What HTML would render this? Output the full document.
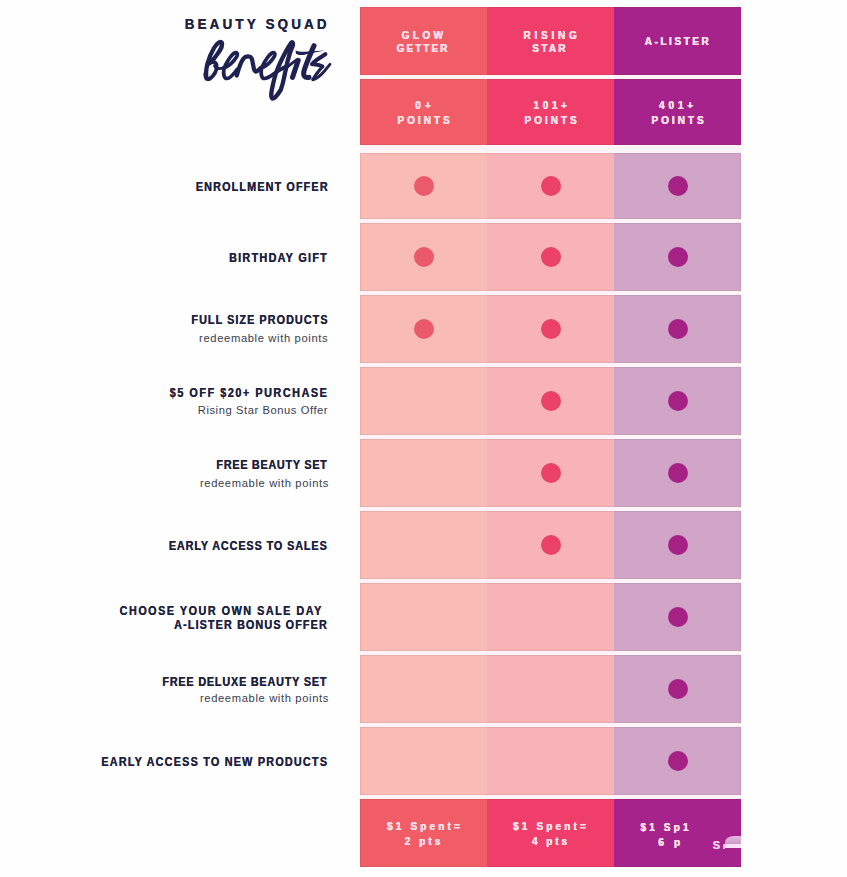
<!DOCTYPE html>
<html><head><meta charset="utf-8">
<style>
html,body{margin:0;padding:0;background:#FEFEFE;}
body{width:847px;height:877px;position:relative;overflow:hidden;font-family:"Liberation Sans",sans-serif;}
.c{position:absolute;width:127px;box-shadow:inset 0 1px 0 rgba(70,30,40,0.08),inset 0 -1px 0 rgba(70,30,40,0.08);}
.c1{left:360px;box-shadow:inset 1px 1px 0 rgba(70,30,40,0.08),inset 0 -1px 0 rgba(70,30,40,0.08);} .c2{left:487px;} .c3{left:614px;box-shadow:inset -1px 1px 0 rgba(70,30,40,0.08),inset 0 -1px 0 rgba(70,30,40,0.08);}
.h1{background:#F15D66;} .h2{background:#EE3E69;} .h3{background:#A5238A;}
.b1{background:#F9BBB6;} .b2{background:#F8B3B9;} .b3{background:#D1A5C7;}
.dot{position:absolute;width:20px;height:20px;border-radius:50%;left:53.5px;}
.d1{background:#EA5A6B;} .d2{background:#EA4268;} .d3{background:#A52185;}
.t{position:absolute;white-space:nowrap;line-height:20px;}
.r{text-align:right;}
.tc{text-align:center;}
</style></head>
<body>
<div style="position:absolute;left:360px;top:7px;width:381px;height:860px;background:#FEF3F6"></div>
<div class="c c1 h1" style="top:7px;height:67.5px"></div>
<div class="c c2 h2" style="top:7px;height:67.5px"></div>
<div class="c c3 h3" style="top:7px;height:67.5px"></div>
<div class="c c1 h1" style="top:79px;height:65.7px"></div>
<div class="c c2 h2" style="top:79px;height:65.7px"></div>
<div class="c c3 h3" style="top:79px;height:65.7px"></div>
<div class="c c1 b1" style="top:153px;height:65.5px"><div class="dot d1" style="top:22.75px"></div></div>
<div class="c c2 b2" style="top:153px;height:65.5px"><div class="dot d2" style="top:22.75px"></div></div>
<div class="c c3 b3" style="top:153px;height:65.5px"><div class="dot d3" style="top:22.75px"></div></div>
<div class="c c1 b1" style="top:223px;height:67.7px"><div class="dot d1" style="top:23.85px"></div></div>
<div class="c c2 b2" style="top:223px;height:67.7px"><div class="dot d2" style="top:23.85px"></div></div>
<div class="c c3 b3" style="top:223px;height:67.7px"><div class="dot d3" style="top:23.85px"></div></div>
<div class="c c1 b1" style="top:295px;height:67.7px"><div class="dot d1" style="top:23.85px"></div></div>
<div class="c c2 b2" style="top:295px;height:67.7px"><div class="dot d2" style="top:23.85px"></div></div>
<div class="c c3 b3" style="top:295px;height:67.7px"><div class="dot d3" style="top:23.85px"></div></div>
<div class="c c1 b1" style="top:367px;height:67.7px"></div>
<div class="c c2 b2" style="top:367px;height:67.7px"><div class="dot d2" style="top:23.85px"></div></div>
<div class="c c3 b3" style="top:367px;height:67.7px"><div class="dot d3" style="top:23.85px"></div></div>
<div class="c c1 b1" style="top:439px;height:67.7px"></div>
<div class="c c2 b2" style="top:439px;height:67.7px"><div class="dot d2" style="top:23.85px"></div></div>
<div class="c c3 b3" style="top:439px;height:67.7px"><div class="dot d3" style="top:23.85px"></div></div>
<div class="c c1 b1" style="top:511px;height:67.7px"></div>
<div class="c c2 b2" style="top:511px;height:67.7px"><div class="dot d2" style="top:23.85px"></div></div>
<div class="c c3 b3" style="top:511px;height:67.7px"><div class="dot d3" style="top:23.85px"></div></div>
<div class="c c1 b1" style="top:583px;height:67.7px"></div>
<div class="c c2 b2" style="top:583px;height:67.7px"></div>
<div class="c c3 b3" style="top:583px;height:67.7px"><div class="dot d3" style="top:23.85px"></div></div>
<div class="c c1 b1" style="top:655px;height:67.7px"></div>
<div class="c c2 b2" style="top:655px;height:67.7px"></div>
<div class="c c3 b3" style="top:655px;height:67.7px"><div class="dot d3" style="top:23.85px"></div></div>
<div class="c c1 b1" style="top:727px;height:67.7px"></div>
<div class="c c2 b2" style="top:727px;height:67.7px"></div>
<div class="c c3 b3" style="top:727px;height:67.7px"><div class="dot d3" style="top:23.85px"></div></div>
<div class="c c1 h1" style="top:799px;height:67.5px"></div>
<div class="c c2 h2" style="top:799px;height:67.5px"></div>
<div class="c c3 h3" style="top:799px;height:67.5px"></div>
<div class="t" id="bs" style="top:14.10px;font-weight:bold;font-size:14px;letter-spacing:3.41px;color:#1F2340;text-shadow:0.25px 0 0 currentColor;transform:scaleX(0.95);right:517.76px;text-align:right;transform-origin:100% 0;">BEAUTY SQUAD</div>
<div class="t" id="l1" style="top:176.70px;font-weight:bold;font-size:12px;letter-spacing:1.27px;color:#1F2340;text-shadow:0.25px 0 0 currentColor;transform:scaleX(0.9);right:518.46px;text-align:right;transform-origin:100% 0;">ENROLLMENT OFFER</div>
<div class="t" id="l2" style="top:247.90px;font-weight:bold;font-size:12px;letter-spacing:1.43px;color:#1F2340;text-shadow:0.25px 0 0 currentColor;transform:scaleX(0.9);right:519.11px;text-align:right;transform-origin:100% 0;">BIRTHDAY GIFT</div>
<div class="t" id="l3" style="top:310.20px;font-weight:bold;font-size:12px;letter-spacing:1.19px;color:#1F2340;text-shadow:0.25px 0 0 currentColor;transform:scaleX(0.9);right:518.33px;text-align:right;transform-origin:100% 0;">FULL SIZE PRODUCTS</div>
<div class="t" id="s3" style="top:327.70px;font-weight:normal;font-size:11.2px;letter-spacing:0.64px;color:#3A3C4E;right:518.76px;text-align:right;transform-origin:100% 0;">redeemable with points</div>
<div class="t" id="l4" style="top:383.10px;font-weight:bold;font-size:12px;letter-spacing:1.73px;color:#1F2340;text-shadow:0.25px 0 0 currentColor;transform:scaleX(0.9);right:518.84px;text-align:right;transform-origin:100% 0;">$5 OFF $20+ PURCHASE</div>
<div class="t" id="s4" style="top:399.90px;font-weight:normal;font-size:11.2px;letter-spacing:0.57px;color:#3A3C4E;right:518.83px;text-align:right;transform-origin:100% 0;">Rising Star Bonus Offer</div>
<div class="t" id="l5" style="top:455.00px;font-weight:bold;font-size:12px;letter-spacing:0.82px;color:#1F2340;text-shadow:0.25px 0 0 currentColor;transform:scaleX(0.9);right:519.86px;text-align:right;transform-origin:100% 0;">FREE BEAUTY SET</div>
<div class="t" id="s5" style="top:472.60px;font-weight:normal;font-size:11.2px;letter-spacing:0.64px;color:#3A3C4E;right:517.96px;text-align:right;transform-origin:100% 0;">redeemable with points</div>
<div class="t" id="l6" style="top:536.00px;font-weight:bold;font-size:12px;letter-spacing:1.01px;color:#1F2340;text-shadow:0.25px 0 0 currentColor;transform:scaleX(0.9);right:519.49px;text-align:right;transform-origin:100% 0;">EARLY ACCESS TO SALES</div>
<div class="t" id="l7a" style="top:601.10px;font-weight:bold;font-size:12px;letter-spacing:1.68px;color:#1F2340;text-shadow:0.25px 0 0 currentColor;transform:scaleX(0.9);right:523.89px;text-align:right;transform-origin:100% 0;">CHOOSE YOUR OWN SALE DAY</div>
<div class="t" id="l7b" style="top:615.30px;font-weight:bold;font-size:12px;letter-spacing:1.24px;color:#1F2340;text-shadow:0.25px 0 0 currentColor;transform:scaleX(0.9);right:519.48px;text-align:right;transform-origin:100% 0;">A-LISTER BONUS OFFER</div>
<div class="t" id="l8" style="top:671.50px;font-weight:bold;font-size:12px;letter-spacing:0.91px;color:#1F2340;text-shadow:0.25px 0 0 currentColor;transform:scaleX(0.9);right:519.78px;text-align:right;transform-origin:100% 0;">FREE DELUXE BEAUTY SET</div>
<div class="t" id="s8" style="top:687.80px;font-weight:normal;font-size:11.2px;letter-spacing:0.64px;color:#3A3C4E;right:517.96px;text-align:right;transform-origin:100% 0;">redeemable with points</div>
<div class="t" id="l9" style="top:751.80px;font-weight:bold;font-size:12px;letter-spacing:1.36px;color:#1F2340;text-shadow:0.25px 0 0 currentColor;transform:scaleX(0.9);right:518.58px;text-align:right;transform-origin:100% 0;">EARLY ACCESS TO NEW PRODUCTS</div>
<div class="t" id="hA1" style="top:24.60px;font-weight:bold;font-size:10.5px;letter-spacing:3.63px;color:#FADDE3;text-shadow:0.35px 0 0 currentColor,-0.2px 0 0 currentColor;transform:scaleX(0.95);left:323.72px;width:200px;text-align:center;transform-origin:50% 0;">GLOW</div>
<div class="t" id="hA1b" style="top:38.20px;font-weight:bold;font-size:10.5px;letter-spacing:2.16px;color:#FADDE3;text-shadow:0.35px 0 0 currentColor,-0.2px 0 0 currentColor;transform:scaleX(0.95);left:323.03px;width:200px;text-align:center;transform-origin:50% 0;">GETTER</div>
<div class="t" id="hA2" style="top:24.60px;font-weight:bold;font-size:10.5px;letter-spacing:3.96px;color:#FADDE3;text-shadow:0.35px 0 0 currentColor,-0.2px 0 0 currentColor;transform:scaleX(0.95);left:452.08px;width:200px;text-align:center;transform-origin:50% 0;">RISING</div>
<div class="t" id="hA2b" style="top:38.20px;font-weight:bold;font-size:10.5px;letter-spacing:2.43px;color:#FADDE3;text-shadow:0.35px 0 0 currentColor,-0.2px 0 0 currentColor;transform:scaleX(0.95);left:450.05px;width:200px;text-align:center;transform-origin:50% 0;">STAR</div>
<div class="t" id="hA3" style="top:31.20px;font-weight:bold;font-size:10.5px;letter-spacing:2.72px;color:#FADDE3;text-shadow:0.35px 0 0 currentColor,-0.2px 0 0 currentColor;transform:scaleX(0.95);left:578.09px;width:200px;text-align:center;transform-origin:50% 0;">A-LISTER</div>
<div class="t" id="hB1" style="top:94.60px;font-weight:bold;font-size:10.5px;letter-spacing:4.4px;color:#FADDE3;text-shadow:0.35px 0 0 currentColor,-0.2px 0 0 currentColor;transform:scaleX(0.95);left:324.59px;width:200px;text-align:center;transform-origin:50% 0;">0+</div>
<div class="t" id="hB1b" style="top:110.20px;font-weight:bold;font-size:10.5px;letter-spacing:3.16px;color:#FADDE3;text-shadow:0.35px 0 0 currentColor,-0.2px 0 0 currentColor;transform:scaleX(0.95);left:324.60px;width:200px;text-align:center;transform-origin:50% 0;">POINTS</div>
<div class="t" id="hB2" style="top:94.60px;font-weight:bold;font-size:10.5px;letter-spacing:3.83px;color:#FADDE3;text-shadow:0.35px 0 0 currentColor,-0.2px 0 0 currentColor;transform:scaleX(0.95);left:451.52px;width:200px;text-align:center;transform-origin:50% 0;">101+</div>
<div class="t" id="hB2b" style="top:110.20px;font-weight:bold;font-size:10.5px;letter-spacing:3.16px;color:#FADDE3;text-shadow:0.35px 0 0 currentColor,-0.2px 0 0 currentColor;transform:scaleX(0.95);left:451.80px;width:200px;text-align:center;transform-origin:50% 0;">POINTS</div>
<div class="t" id="hB3" style="top:94.60px;font-weight:bold;font-size:10.5px;letter-spacing:4.07px;color:#FADDE3;text-shadow:0.35px 0 0 currentColor,-0.2px 0 0 currentColor;transform:scaleX(0.95);left:578.13px;width:200px;text-align:center;transform-origin:50% 0;">401+</div>
<div class="t" id="hB3b" style="top:110.20px;font-weight:bold;font-size:10.5px;letter-spacing:3.16px;color:#FADDE3;text-shadow:0.35px 0 0 currentColor,-0.2px 0 0 currentColor;transform:scaleX(0.95);left:578.80px;width:200px;text-align:center;transform-origin:50% 0;">POINTS</div>
<div class="t" id="f1" style="top:816.40px;font-weight:bold;font-size:10.5px;letter-spacing:3.33px;color:#FADDE3;text-shadow:0.35px 0 0 currentColor,-0.2px 0 0 currentColor;transform:scaleX(0.95);left:324.78px;width:200px;text-align:center;transform-origin:50% 0;">$1 Spent=</div>
<div class="t" id="f1b" style="top:830.60px;font-weight:bold;font-size:10.5px;letter-spacing:3.25px;color:#FADDE3;text-shadow:0.35px 0 0 currentColor,-0.2px 0 0 currentColor;transform:scaleX(0.95);left:323.84px;width:200px;text-align:center;transform-origin:50% 0;">2 pts</div>
<div class="t" id="f2" style="top:816.40px;font-weight:bold;font-size:10.5px;letter-spacing:3.33px;color:#FADDE3;text-shadow:0.35px 0 0 currentColor,-0.2px 0 0 currentColor;transform:scaleX(0.95);left:451.18px;width:200px;text-align:center;transform-origin:50% 0;">$1 Spent=</div>
<div class="t" id="f2b" style="top:830.60px;font-weight:bold;font-size:10.5px;letter-spacing:3.1px;color:#FADDE3;text-shadow:0.35px 0 0 currentColor,-0.2px 0 0 currentColor;transform:scaleX(0.95);left:451.37px;width:200px;text-align:center;transform-origin:50% 0;">4 pts</div>
<div class="t" id="f3" style="top:816.90px;font-weight:bold;font-size:10.5px;letter-spacing:3.31px;color:#FADDE3;text-shadow:0.35px 0 0 currentColor,-0.2px 0 0 currentColor;transform:scaleX(0.95);left:566.07px;width:200px;text-align:center;transform-origin:50% 0;">$1 Sp1</div>
<div class="t" id="f3b" style="top:831.80px;font-weight:bold;font-size:10.5px;letter-spacing:3.85px;color:#FADDE3;text-shadow:0.35px 0 0 currentColor,-0.2px 0 0 currentColor;transform:scaleX(0.95);left:571.33px;width:200px;text-align:center;transform-origin:50% 0;">6 p</div>
<svg style="position:absolute;left:0;top:0" width="847" height="120" viewBox="0 0 847 120"><g fill="none" stroke="#1F2150" stroke-linecap="round" stroke-linejoin="round">
<path stroke-width="4.3" d="M206.5 78.5 C205 70 208 58 214 48 C217 43 220.5 40.8 221.8 42.5 C223.2 44.8 220 51 216 56 C213 60 210.5 62.5 209 63.5"/>
<path stroke-width="3.9" d="M209 63.5 C212 61 215.5 61.5 216.5 65 C217.5 70 214 76 210 78.5 C207.5 80 205 78.5 205.3 74"/>
<path stroke-width="2.76" d="M214.5 66 C216.5 69 220 69 223.5 67.8"/>
<path stroke-width="3.7" d="M223.5 67.8 C227 67 231 64 234 60.5 C236.5 57.5 238.5 54.5 237 53 C235.5 51.5 232.5 54 230 57.5 C227.5 61 225 65 224 69 C223 74 224 78.5 227 78.5 C230 78.5 233 75 237 69.5"/>
<path stroke-width="4.3" d="M236.8 75.5 C238.5 69 241 62 243.5 58.5 C245.5 56 250 55.5 251.5 58 C253 61.5 253 67 254.5 70.5 C256 73 258 70.5 261 67.8"/>
<path stroke-width="3.7" d="M261 67.8 C264.5 67 268.5 64 271.5 60.5 C274 57.5 276 54.5 274.5 53 C273 51.5 270 54 267.5 57.5 C265 61 262.5 65 261.5 69 C260.5 74 261.5 78.5 264.5 78.5 C267.5 78.5 271 76 275 73 C278.5 70.5 282 68.5 285 67"/>
<path stroke-width="4.3" d="M291.6 42.4 C288 47 284.5 54 281.5 60 C279 65 277.5 69 276.5 71.5 C275 75.5 273 84 271.8 90 C271 94 271 98 272.4 98.7 C274 99.2 277.5 95 280.7 90 C282.5 85 283.5 81 284 78 C284.8 74 285.2 72 285.8 69.5 C286.8 64 288 59 289.5 54.5 C290.8 50 292.5 47 293 45 C293.4 43 292.6 41.8 291.6 42.4"/>
<path stroke-width="2.76" d="M285.5 68.5 C288.5 66 292 63 296.5 60"/>
<path stroke-width="5.06" d="M298.2 60.4 C296 67 294 73 292.5 77.4"/>
<path stroke-width="5.06" d="M314 45.7 C310 55 305.5 65 304 71 C303 76 304.5 78 309 77.4"/>
<path stroke-width="4.02" d="M325.4 54.2 C321 57 314 61 312 64 C315 64.5 319 64.5 322.5 66.5"/>
<path stroke-width="3.3" d="M322.5 66.5 C319.5 70 315.5 75 313 79.5"/>
<path stroke-width="2.9" d="M313 79.5 C317 79 321.5 74.5 324.5 71 C327 68 328.5 66 329.9 64.4"/>
</g>
<path fill="#1F2150" d="M295.5 50.5 C299 52 303 52 308 51.5 L325 50.5 L308 53.8 C304 55.3 299 55.8 296 53.8 Z"/>
</svg>

<div style="position:absolute;left:725.3px;top:836px;width:15.7px;height:8px;border-top-left-radius:9px 6px;background:linear-gradient(#E7B6DF,#C89DC4)"></div>
<div style="position:absolute;left:724.8px;top:844px;width:16.2px;height:4.2px;background:#FBE2F6"></div>
<div style="position:absolute;left:722.6px;top:844.4px;width:2.2px;height:5px;background:#F4BDE9"></div>
<div class="t" style="left:712.6px;top:834.5px;font-weight:bold;font-size:11px;color:#F8CAF0;text-shadow:0.4px 0 0 #F8CAF0">S</div>
</body></html>
